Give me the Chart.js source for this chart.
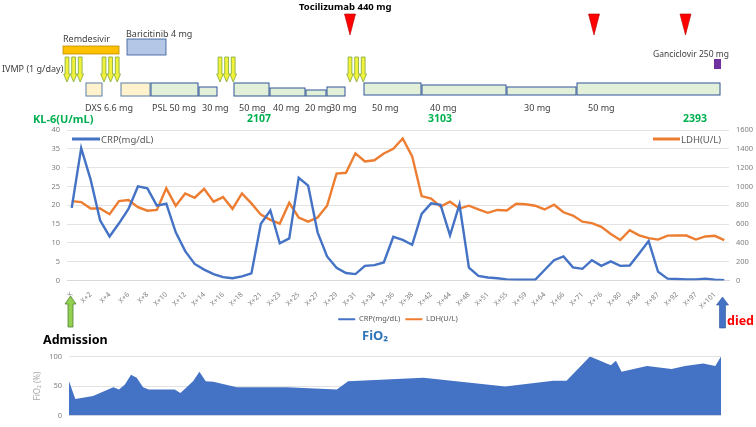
<!DOCTYPE html>
<html><head><meta charset="utf-8">
<script src="https://cdn.jsdelivr.net/npm/chart.js@4/dist/chart.umd.min.js"></script>
<style>
html,body{margin:0;padding:0;background:#fff;width:756px;height:427px;overflow:hidden;}
#wrap{position:relative;width:756px;height:427px;}
canvas{position:absolute;left:0;}
#main{top:0;width:756px;height:333px;}
#fio2{top:345px;width:756px;height:82px;}
#ov{position:absolute;left:0;top:0;pointer-events:none;}
</style></head><body>
<div id="wrap">
<canvas id="main" width="756" height="333"></canvas>
<canvas id="fio2" width="756" height="82"></canvas>
<svg id="ov" width="756" height="427" xmlns="http://www.w3.org/2000/svg" font-family="'Noto Sans', sans-serif">
  <text x="299" y="6" font-size="9.5" font-weight="bold" fill="#000" dominant-baseline="central">Tocilizumab 440 mg</text>
  <text x="63" y="38" font-size="9" fill="#404040" dominant-baseline="central">Remdesivir</text>
  <rect x="63" y="46" width="56" height="8" fill="#FFC000" stroke="#BF8F00" stroke-width="0.8"/>
  <text x="126" y="33" font-size="9" fill="#404040" dominant-baseline="central">Baricitinib 4 mg</text>
  <rect x="127" y="39" width="39" height="16" fill="#B4C7E7" stroke="#2F5597" stroke-width="0.8"/>
  <text x="2" y="68" font-size="9" fill="#404040" dominant-baseline="central">IVMP (1 g/day)</text>
  <text x="653" y="53" font-size="8.5" fill="#404040" dominant-baseline="central">Ganciclovir 250 mg</text>
  <rect x="714" y="59" width="7" height="10" fill="#7030A0"/>
  <g id="boxes"></g>
  <g id="arrows"></g>
  <g id="tris"></g>
  <g font-size="9" fill="#404040">
    <text x="85" y="107" dominant-baseline="central">DXS 6.6 mg</text>
    <text x="152" y="107" dominant-baseline="central">PSL 50 mg</text>
    <text x="202" y="107" dominant-baseline="central">30 mg</text>
    <text x="239" y="107" dominant-baseline="central">50 mg</text>
    <text x="273" y="107" dominant-baseline="central">40 mg</text>
    <text x="305" y="107" dominant-baseline="central">20 mg</text>
    <text x="330" y="107" dominant-baseline="central">30 mg</text>
    <text x="372" y="107" dominant-baseline="central">50 mg</text>
    <text x="430" y="107" dominant-baseline="central">40 mg</text>
    <text x="524" y="107" dominant-baseline="central">30 mg</text>
    <text x="588" y="107" dominant-baseline="central">50 mg</text>
  </g>
  <g font-weight="bold" fill="#00B050" font-size="10.5">
    <text x="33" y="118" font-size="11" dominant-baseline="central">KL-6(U/mL)</text>
    <text x="247" y="118" dominant-baseline="central">2107</text>
    <text x="428" y="118" dominant-baseline="central">3103</text>
    <text x="683" y="118" dominant-baseline="central">2393</text>
  </g>
  <line x1="72" y1="139" x2="100" y2="139" stroke="#4472C4" stroke-width="3"/>
  <text x="101" y="139" font-size="9.5" fill="#595959" dominant-baseline="central">CRP(mg/dL)</text>
  <line x1="653" y1="139" x2="680" y2="139" stroke="#ED7D31" stroke-width="3"/>
  <text x="681" y="139" font-size="9.5" fill="#595959" dominant-baseline="central">LDH(U/L)</text>
  <polygon points="70.5,296 76,304 73,304 73,327 68,327 68,304 65,304" fill="#92D050" stroke="#548235" stroke-width="0.8"/>
  <polygon points="722.5,297 728.5,305 725.5,305 725.5,328 719.5,328 719.5,305 716.5,305" fill="#4472C4" stroke="#2F5597" stroke-width="0.6"/>
  <text x="43" y="339" font-size="12.5" font-weight="bold" fill="#000" dominant-baseline="central">Admission</text>
  <text x="362" y="335" font-size="13" font-weight="bold" fill="#2E75B6" dominant-baseline="central">FiO₂</text>
  <text x="727" y="320" font-size="12.5" font-weight="bold" fill="#FF0000" dominant-baseline="central">died</text>
</svg>
</div>
<script>
// ---- data ----
const dayLabels = ['X','X+1','X+2','X+3','X+4','X+5','X+6','X+7','X+8','X+9',
 'X+10','X+11','X+12','X+13','X+14','X+15','X+16','X+17','X+18','X+20',
 'X+21','X+22','X+23','X+24','X+25','X+26','X+27','X+28','X+29','X+30',
 'X+31','X+33','X+34','X+35','X+36','X+37','X+38','X+40','X+42','X+43',
 'X+44','X+46','X+48','X+50','X+51','X+53','X+55','X+57','X+59','X+62',
 'X+64','X+65','X+66','X+69','X+71','X+73','X+76','X+78','X+80','X+82',
 'X+84','X+86','X+87','X+90','X+92','X+95','X+97','X+99','X+101','X+103'];
const crpValues = [19.3,35.2,26.8,16.0,11.7,15.2,19.0,25.0,24.5,19.9,
 20.4,12.8,7.8,4.4,2.9,1.7,0.9,0.6,1.1,1.9,
 15.1,18.6,9.9,11.2,27.3,25.2,12.8,6.4,3.4,2.0,
 1.7,3.9,4.1,4.8,11.6,10.8,9.5,17.7,20.5,20.1,
 12.0,20.2,3.4,1.2,0.8,0.6,0.3,0.2,0.2,0.2,
 2.8,5.4,6.4,3.5,3.1,5.4,3.9,5.1,3.9,4.0,
 7.2,10.5,2.3,0.5,0.4,0.3,0.3,0.5,0.2,0.1];
const ldhValues = [844,834,766,766,705,844,856,780,742,750,
 980,795,925,880,975,838,887,762,926,820,
 700,645,605,826,670,625,670,795,1136,1145,
 1352,1265,1278,1350,1400,1510,1320,897,870,785,
 838,765,795,755,720,750,745,816,810,795,
 755,805,725,690,625,610,570,495,430,535,
 480,450,435,477,478,478,435,468,475,430];
const fio2Days = [0,1.0,3.8,7.0,7.9,8.8,9.8,10.7,11.7,12.6,16.7,17.6,19.6,20.6,21.6,22.8,26.5,34.4,42.3,44.1,56.0,68.9,76.5,78.6,82.3,85.6,86.4,87.3,91.3,95.2,97.3,100.2,102.1,103];
const fio2Values = [58,28,33,48,44,52,69,64,48,44,44,38,58,74,58,57,48,48,44,58,64,49,59,59,100,85,93,74,84,79,84,88,84,100];
const crpTicks = [0,5,10,15,20,25,30,35,40];
const ldhTicks = [0,200,400,600,800,1000,1200,1400,1600];

// ---- decoration layout ----
const NS = 'http://www.w3.org/2000/svg';
function el(tag, attrs, parent){ const e=document.createElementNS(NS,tag); for(const k in attrs) e.setAttribute(k,attrs[k]); parent.appendChild(e); return e; }
const steroidBoxes = [
 [86,102,83,96,'b'],[121,150,83,96,'b'],[151,198,83,96,'g'],[199,217,87,96,'g'],
 [234,269,83,96,'g'],[270,305,88,96,'g'],[306,326,90,96,'g'],[327,345,87,96,'g'],
 [364,421,83,95,'g'],[422,506,85,95,'g'],[507,576,87,95,'g'],[577,720,83,95,'g']];
const gB = document.getElementById('boxes');
steroidBoxes.forEach(b => el('rect',{x:b[0],y:b[2],width:b[1]-b[0],height:b[3]-b[2],
  fill: b[4]==='b' ? '#FFF2CC' : '#E2F0D9', stroke: b[4]==='b' ? '#5B7FA6' : '#2F5597','stroke-width':1}, gB));
const arrowGroups = [67,104,220,350];
const gA = document.getElementById('arrows');
arrowGroups.forEach(x0 => { for(let k=0;k<3;k++){ const c=x0+k*6.6;
  el('polygon',{points:`${c-1.9},57 ${c+1.9},57 ${c+1.9},74 ${c+3.3},74 ${c},82 ${c-3.3},74 ${c-1.9},74`,
   fill:'#F2F23A', stroke:'#7FA83A','stroke-width':0.8}, gA); } });
const gT = document.getElementById('tris');
[350,594,685.5].forEach(c => el('polygon',{points:`${c-5.5},14 ${c+5.5},14 ${c},35`, fill:'#FF0000', stroke:'#B00000','stroke-width':0.6}, gT));

// ---- charts ----
Chart.defaults.font.family = "'Noto Sans', sans-serif";
const tickColor = '#7F7F7F';
new Chart(document.getElementById('main'), {
  type: 'line',
  data: { labels: dayLabels, datasets: [
    {label:'CRP(mg/dL)', data: crpValues, borderColor:'#4472C4', backgroundColor:'#4472C4', borderWidth:2.4, pointRadius:0, tension:0, yAxisID:'y'},
    {label:'LDH(U/L)', data: ldhValues, borderColor:'#ED7D31', backgroundColor:'#ED7D31', borderWidth:2.4, pointRadius:0, tension:0, yAxisID:'y1'}
  ]},
  options: {
    responsive:false, animation:false,
    layout:{padding:{top:130,left:0,right:0,bottom:0}},
    plugins:{
      tooltip:{enabled:false},
      legend:{position:'bottom', fullSize:false, labels:{boxWidth:17, boxHeight:2, padding:5, color:'#595959', font:{size:7.5},
        generateLabels: c => Chart.defaults.plugins.legend.labels.generateLabels(c).map(l => Object.assign(l,{lineWidth:0}))}}
    },
    scales:{
      x:{offset:true, grid:{display:false}, border:{color:'#D9D9D9'},
         ticks:{autoSkip:false, maxRotation:45, minRotation:45, padding:2, color:tickColor, font:{size:7},
           callback:(v,i)=> i%2===0 ? dayLabels[i] : ''},
         afterFit:s=>{s.height=30;}},
      y:{position:'left', min:0, max:40, afterBuildTicks:s=>{s.ticks=crpTicks.map(v=>({value:v}));},
         ticks:{color:tickColor, font:{size:7.5}, padding:7, callback:v=>String(v)},
         grid:{color:'#E3E3E3', drawTicks:false}, border:{display:false},
         afterFit:s=>{s.width=67;}},
      y1:{position:'right', min:0, max:1600, afterBuildTicks:s=>{s.ticks=ldhTicks.map(v=>({value:v}));},
         ticks:{color:tickColor, font:{size:7.5}, padding:7, callback:v=>String(v)},
         grid:{drawOnChartArea:false, drawTicks:false}, border:{display:false},
         afterFit:s=>{s.width=27;}}
    }
  }
});
new Chart(document.getElementById('fio2'), {
  type:'line',
  data:{ datasets:[{ label:'FiO₂', data: fio2Days.map((d,i)=>({x:d,y:fio2Values[i]})),
    borderWidth:0, borderColor:'#4472C4', backgroundColor:'#4472C4', fill:'origin', pointRadius:0, tension:0 }]},
  options:{ responsive:false, animation:false,
    layout:{padding:{top:10.7,bottom:6.3,right:35,left:0}},
    plugins:{legend:{display:false}, tooltip:{enabled:false}},
    scales:{
      x:{type:'linear', min:0, max:103, display:false},
      y:{min:0, max:100, ticks:{stepSize:50, color:tickColor, font:{size:7.5}, padding:7},
         grid:{color:'#E3E3E3', drawTicks:false}, border:{display:false},
         title:{display:true, text:'FiO₂ (%)', color:'#A6A6A6', font:{size:8}, padding:{top:33,bottom:0}},
         afterFit:s=>{s.width=69;}}
    }
  }
});
</script>
</body></html>
